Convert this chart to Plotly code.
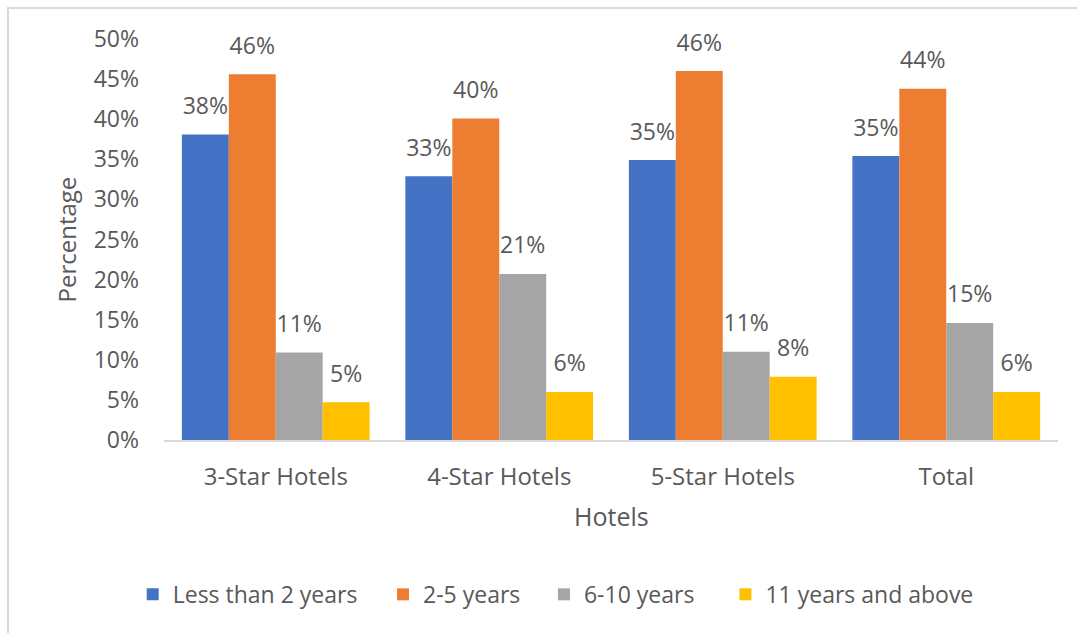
import plotly.graph_objects as go

categories = ["3-Star Hotels", "4-Star Hotels", "5-Star Hotels", "Total"]
series_names = ["Less than 2 years", "2-5 years", "6-10 years", "11 years and above"]
less_than_2 = [0.381, 0.329, 0.349, 0.354]
years_2_5 = [0.456, 0.401, 0.460, 0.438]
years_6_10 = [0.109, 0.207, 0.110, 0.146]
years_11_plus = [0.047, 0.060, 0.079, 0.060]
y_ticks = [0, 0.05, 0.10, 0.15, 0.20, 0.25, 0.30, 0.35, 0.40, 0.45, 0.50]

colors = ["#4472C4", "#ED7D31", "#A5A5A5", "#FFC000"]
series = [less_than_2, years_2_5, years_6_10, years_11_plus]
FONT = "Open Sans, Segoe UI, sans-serif"
TXT = "#595959"

# legend anchor positions (paper x) for each series entry
legend_x = [-0.035, 0.245, 0.425, 0.628]
legend_ids = ["legend", "legend2", "legend3", "legend4"]

fig = go.Figure()
for i, (name, vals) in enumerate(zip(series_names, series)):
    fig.add_trace(go.Bar(
        x=categories, y=vals, name=name, marker_color=colors[i],
        marker_line_width=0, offsetgroup=str(i), legend=legend_ids[i],
    ))
for i, (name, vals) in enumerate(zip(series_names, series)):
    fig.add_trace(go.Scatter(
        x=categories, y=vals, mode="markers+text", offsetgroup=str(i),
        marker=dict(size=22, color="rgba(0,0,0,0)"),
        text=[f"{round(v*100):.0f}%" for v in vals],
        textposition="top center", cliponaxis=False,
        textfont=dict(size=23, color=TXT, family=FONT),
        showlegend=False, hoverinfo="skip",
    ))

legend_common = dict(orientation="h", xanchor="left", y=-0.385, yanchor="middle",
                     font=dict(size=23, color=TXT), itemwidth=30,
                     bgcolor="rgba(0,0,0,0)")

fig.update_layout(
    width=1077, height=633,
    margin=dict(l=164, r=19, t=39, b=193),
    paper_bgcolor="white", plot_bgcolor="white",
    barmode="group", scattermode="group", bargap=0.16, bargroupgap=0,
    font=dict(family=FONT, color=TXT, size=23),
    showlegend=True,
    legend=dict(x=legend_x[0], **legend_common),
    legend2=dict(x=legend_x[1], **legend_common),
    legend3=dict(x=legend_x[2], **legend_common),
    legend4=dict(x=legend_x[3], **legend_common),
    xaxis=dict(showgrid=False, showline=True, linecolor="#D9D9D9", linewidth=2,
               ticks="", ticklabelstandoff=14, tickfont=dict(size=24, color=TXT)),
    yaxis=dict(range=[0, 0.5], tickvals=y_ticks, tickformat=".0%", showgrid=False,
               showline=False, zeroline=False, ticks="", ticklabelstandoff=24,
               tickfont=dict(size=23, color=TXT)),
    annotations=[
        dict(text="Percentage", xref="paper", yref="paper", x=-0.1096, y=0.5,
             textangle=-90, showarrow=False, font=dict(size=24, color=TXT),
             xanchor="center", yanchor="middle"),
        dict(text="Hotels", xref="paper", yref="paper", x=0.501, y=-0.19,
             showarrow=False, font=dict(size=25, color=TXT),
             xanchor="center", yanchor="middle"),
    ],
    shapes=[dict(type="rect", xref="paper", yref="paper", x0=-0.1745, x1=1.2,
                 y0=-0.6, y1=1.0773, line=dict(color="#D9D9D9", width=2),
                 fillcolor="rgba(0,0,0,0)", layer="below")],
)

fig.write_html("out.html")
